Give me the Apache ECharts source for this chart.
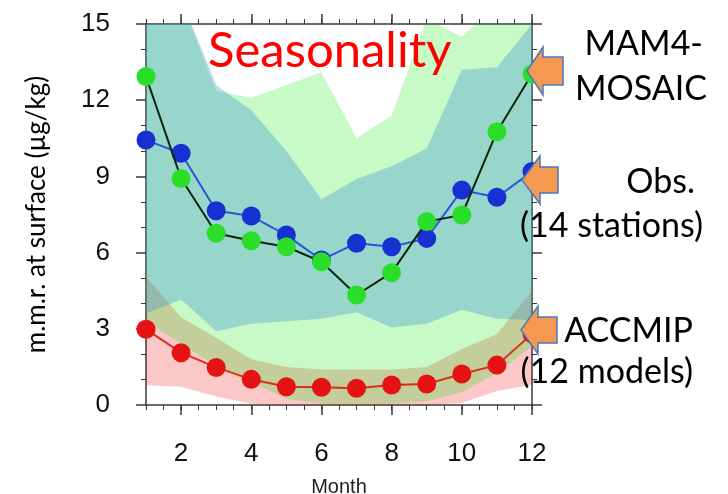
<!DOCTYPE html>
<html>
<head>
<meta charset="utf-8">
<script src="https://cdn.jsdelivr.net/npm/echarts@6/dist/echarts.min.js"></script>
<style>
  html, body { margin: 0; padding: 0; background: #ffffff; }
  #chart { width: 728px; height: 494px; }
</style>
</head>
<body>
<div id="chart"></div>
<script>
// Monthly surface mixing ratio (µg/kg)
const months = [1, 2, 3, 4, 5, 6, 7, 8, 9, 10, 11, 12];

// Mean seasonal cycles
const mam4Mean   = [12.93, 8.92, 6.76, 6.47, 6.23, 5.64, 4.33, 5.21, 7.22, 7.48, 10.76, 13.03];
const obsMean    = [10.43, 9.91, 7.65, 7.44, 6.69, 5.71, 6.37, 6.23, 6.56, 8.46, 8.18, 9.19];
const accmipMean = [2.98, 2.06, 1.48, 1.01, 0.72, 0.70, 0.66, 0.79, 0.83, 1.22, 1.57, 2.80];

// Spread (min / max) around each cycle
const mam4Low    = [3.30, 2.40, 1.55, 0.90, 0.25, 0.05, 0.05, 0.05, 0.15, 0.50, 1.25, 2.30];
const mam4High   = [17.0, 15.9, 12.35, 12.1, 12.6, 13.1, 10.5, 11.4, 15.2, 14.5, 15.8, 17.0];
const obsLow     = [3.60, 4.15, 2.90, 3.20, 3.30, 3.40, 3.65, 3.05, 3.20, 3.75, 3.40, 3.35];
const obsHigh    = [17.0, 16.0, 12.6, 11.6, 10.0, 8.1, 8.9, 9.4, 10.1, 13.2, 13.3, 15.0];
const accmipLow  = [0.78, 0.72, 0.33, 0.05, 0.00, 0.00, 0.00, 0.00, 0.00, 0.08, 0.55, 0.80];
const accmipHigh = [5.05, 3.45, 2.65, 1.80, 1.50, 1.40, 1.40, 1.40, 1.50, 2.20, 2.80, 4.50];

// Axis ticks
const xLabelTicks = [2, 4, 6, 8, 10, 12];
const yMin = 0, yMax = 15, yStep = 3;

const pairs = (vals) => months.map((m, i) => [m, vals[i]]);

// A shaded min/max range: one polygon through the upper edge and back along the lower edge,
// placed with the cartesian scales and clipped to the plotting area.
function band(id, low, high, color) {
  return {
    type: 'custom', id: id, z: 1, silent: true,
    data: [[months[0], low[0]]],
    renderItem: function (params, api) {
      const upper = months.map((m, i) => api.coord([m, high[i]]));
      const lower = months.map((m, i) => api.coord([m, low[i]])).reverse();
      const cs = params.coordSys;
      return {
        type: 'group',
        clipPath: { type: 'rect', shape: { x: cs.x, y: cs.y, width: cs.width, height: cs.height } },
        children: [{
          type: 'polygon',
          shape: { points: upper.concat(lower) },
          style: { fill: color, stroke: null }
        }]
      };
    }
  };
}

function meanLine(id, vals, dotColor, lineColor, z) {
  return {
    type: 'line', id: id, data: pairs(vals), z: z,
    symbol: 'circle', symbolSize: 19,
    itemStyle: { color: dotColor },
    lineStyle: { color: lineColor, width: 2 }
  };
}

// Left-pointing block arrow ending at (tipX, tipY)
function arrow(tipX, tipY, headLen, headHalf, bodyLen, bodyHalf) {
  const bx = tipX + headLen;
  return {
    type: 'polygon', z: 100,
    shape: { points: [
      [tipX, tipY], [bx, tipY - headHalf], [bx, tipY - bodyHalf],
      [bx + bodyLen, tipY - bodyHalf], [bx + bodyLen, tipY + bodyHalf],
      [bx, tipY + bodyHalf], [bx, tipY + headHalf]
    ] },
    style: { fill: '#f4994f', stroke: '#4a78c0', lineWidth: 1.5 }
  };
}

const sideFont = '34px Lato';
function sideText(text, rightX, midY) {
  return {
    type: 'text', z: 100, x: rightX, y: midY,
    style: { text: text, font: sideFont, fill: '#000000', align: 'right', verticalAlign: 'middle' }
  };
}

const frame = '#383838';
const tickFont = { fontFamily: 'Liberation Sans', fontSize: 26, color: '#111111' };

const chart = echarts.init(document.getElementById('chart'), null, { renderer: 'canvas' });

chart.setOption({
  animation: false,
  backgroundColor: '#ffffff',
  grid: { left: 146, right: 196, top: 24, bottom: 89, containLabel: false, outerBoundsMode: 'none' },
  xAxis: [
    {
      type: 'value', position: 'bottom', min: 1, max: 12, interval: 1,
      name: 'Month', nameLocation: 'middle', nameGap: 72,
      nameTextStyle: { fontFamily: 'Liberation Sans', fontSize: 20, color: '#222222' },
      axisLine: { show: true, onZero: false, lineStyle: { color: frame, width: 1.5 } },
      axisTick: { show: true, customValues: xLabelTicks, length: 10, lineStyle: { color: frame, width: 1.5 } },
      axisLabel: Object.assign({ customValues: xLabelTicks, margin: 36 }, tickFont),
      splitLine: { show: false }
    },
    {
      type: 'value', position: 'bottom', min: 1, max: 12, interval: 0.5,
      axisLine: { show: false, onZero: false },
      axisTick: { show: true, length: 5, lineStyle: { color: frame, width: 1 } },
      axisLabel: { show: false }, splitLine: { show: false }
    },
    {
      type: 'value', position: 'top', min: 1, max: 12, interval: 1,
      axisLine: { show: true, onZero: false, lineStyle: { color: frame, width: 1.5 } },
      axisTick: { show: true, customValues: xLabelTicks, length: 10, lineStyle: { color: frame, width: 1.5 } },
      axisLabel: { show: false }, splitLine: { show: false }
    },
    {
      type: 'value', position: 'top', min: 1, max: 12, interval: 0.5,
      axisLine: { show: false, onZero: false },
      axisTick: { show: true, length: 5, lineStyle: { color: frame, width: 1 } },
      axisLabel: { show: false }, splitLine: { show: false }
    }
  ],
  yAxis: [
    {
      type: 'value', position: 'left', min: yMin, max: yMax, interval: yStep,
      name: 'm.m.r. at surface (µg/kg)', nameLocation: 'middle', nameGap: 96, nameRotate: 90,
      nameTextStyle: { fontFamily: 'Lato', fontSize: 26, color: '#000000' },
      axisLine: { show: true, onZero: false, lineStyle: { color: frame, width: 1.5 } },
      axisTick: { show: true, length: 10, lineStyle: { color: frame, width: 1.5 } },
      minorTick: { show: true, splitNumber: 3, length: 5, lineStyle: { color: frame, width: 1 } },
      axisLabel: Object.assign({ margin: 36 }, tickFont),
      splitLine: { show: false }, minorSplitLine: { show: false }
    },
    {
      type: 'value', position: 'right', min: yMin, max: yMax, interval: yStep,
      axisLine: { show: true, onZero: false, lineStyle: { color: frame, width: 1.5 } },
      axisTick: { show: true, length: 10, lineStyle: { color: frame, width: 1.5 } },
      minorTick: { show: true, splitNumber: 3, length: 5, lineStyle: { color: frame, width: 1 } },
      axisLabel: { show: false }, splitLine: { show: false }, minorSplitLine: { show: false }
    }
  ],
  series: [
    band('accmipBand', accmipLow, accmipHigh, 'rgba(240,0,0,0.22)'),
    band('mam4Band', mam4Low, mam4High, 'rgba(0,230,0,0.22)'),
    band('obsBand', obsLow, obsHigh, 'rgba(70,150,210,0.36)'),
    meanLine('accmip', accmipMean, '#e41212', '#d8301a', 3),
    meanLine('obs', obsMean, '#1630d2', '#2458d8', 4),
    meanLine('mam4', mam4Mean, '#2ade2a', '#0c260c', 5)
  ],
  graphic: [
    {
      type: 'text', z: 100, x: 208, y: 51,
      style: { text: 'Seasonality', font: '49px Lato', fill: '#ff0000', verticalAlign: 'middle' }
    },
    arrow(527, 71, 16, 24, 20, 14),
    arrow(522, 180, 18, 24, 18, 13),
    arrow(521, 330, 17, 24, 19, 13),
    sideText('MAM4-', 703, 44),
    sideText('MOSAIC', 707, 89),
    sideText('Obs.', 695, 182),
    sideText('(14 stations)', 703, 226),
    sideText('ACCMIP', 693, 331),
    sideText('(12 models)', 693, 372)
  ]
});
</script>
</body>
</html>
